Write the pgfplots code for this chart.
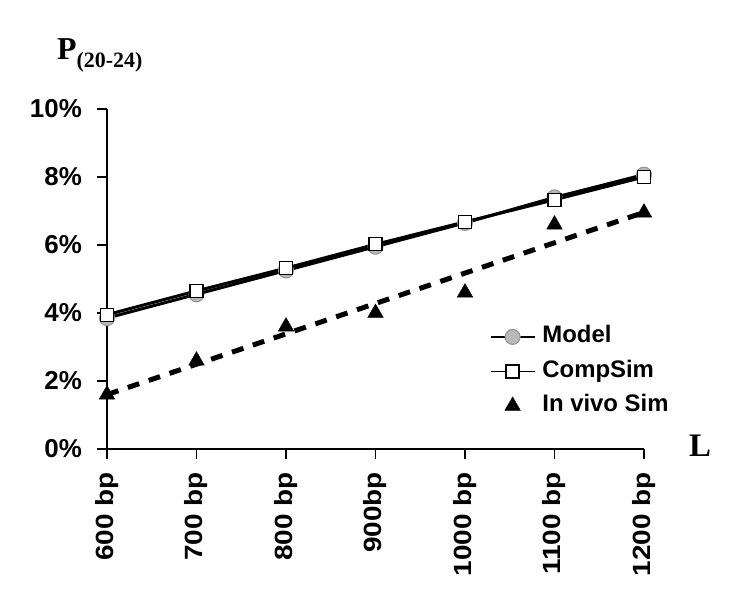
\documentclass[border=0pt]{standalone}
\usepackage{pgfplots}
\pgfplotsset{compat=1.18}
\usepackage{fontspec}
\setmainfont{Liberation Serif}
\newfontfamily\arial{Liberation Sans}
\begin{document}
\begin{tikzpicture}
\begin{axis}[
  scale only axis, width=537bp, height=340bp,
  at={(0,0)}, anchor=south west,
  xmin=600, xmax=1200, ymin=0, ymax=10,
  clip=false,
  axis lines=left, axis line style={-, line width=1.3bp},
  tick align=outside, major tick length=10bp, tick style={line width=1.3bp, black},
  xtick={600,700,...,1200},
  xticklabels={600 bp,700 bp,800 bp,900bp,1000 bp,1100 bp,1200 bp},
  xticklabel shift=13bp,
  x tick label style={rotate=90, anchor=east, inner sep=0pt, font=\arial\bfseries\fontsize{25}{30}\selectfont, xscale=1.12},
  ytick={0,2,...,10},
  yticklabels={0\%,2\%,4\%,6\%,8\%,10\%},
  yticklabel shift=15bp,
  y tick label style={inner sep=0pt, anchor=east, font=\arial\bfseries\fontsize{26}{30}\selectfont},
  legend cell align=left,
  legend style={draw=none, fill=none, inner sep=0pt, outer sep=0pt,
    at={(0.713,0.362)}, anchor=north west,
    font=\arial\bfseries\fontsize{24}{28}\selectfont,
    row sep=12.5bp, column sep=7bp,
    nodes={inner sep=0pt, text height=17bp, text depth=5bp}},
  legend image code/.code={\draw[line width=1.5bp, mark repeat=2, mark phase=2] plot coordinates {(0bp,0bp)(22bp,0bp)(44bp,0bp)};},
]
\addplot[black, line width=3bp, mark=*, mark size=7.5bp,
  mark options={fill=gray!55, draw=gray!85, line width=1bp}]
  coordinates {(600,3.85)(700,4.55)(800,5.25)(900,5.95)(1000,6.65)(1100,7.40)(1200,8.07)};
\addlegendentry{Model}
\addplot[black, line width=3bp, mark=square*, mark size=6.5bp,
  mark options={fill=white, draw=black, line width=1.3bp}]
  coordinates {(600,3.95)(700,4.65)(800,5.32)(900,6.02)(1000,6.68)(1100,7.33)(1200,8.00)};
\addlegendentry{CompSim}
\addplot[only marks, black, mark=triangle*, mark size=9bp,
  legend image code/.code={\draw[mark repeat=1] plot coordinates {(22bp,0bp)};}]
  coordinates {(600,1.60)(700,2.60)(800,3.60)(900,4.00)(1000,4.60)(1100,6.60)(1200,6.95)};
\addlegendentry{In vivo Sim}
\addplot[forget plot, black, line width=5bp, dash pattern=on 12bp off 10bp]
  coordinates {(600,1.60)(1200,6.96)};
\end{axis}
\node[anchor=base west, inner sep=0pt, font=\bfseries\fontsize{32}{36}\selectfont] at (-50bp,389bp) {P\raisebox{-8bp}{\fontsize{22}{24}\selectfont(20-24)}};
\node[anchor=center, inner sep=0pt, font=\bfseries\fontsize{33}{36}\selectfont] at (593bp,3bp) {L};
\path (-107bp,-154bp) rectangle (635bp,449bp);
\end{tikzpicture}
\end{document}
